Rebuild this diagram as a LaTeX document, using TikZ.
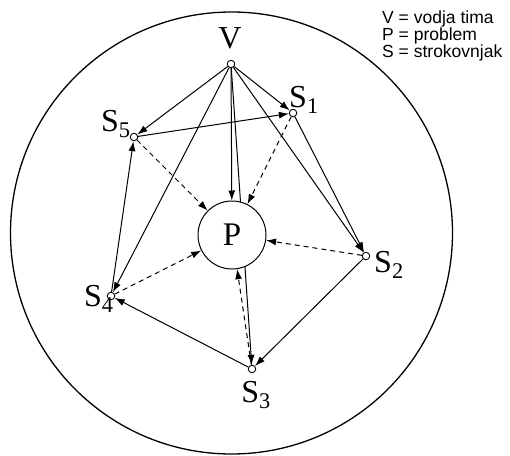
\documentclass[tikz,border=0pt]{standalone}
\usepackage{fontspec}
\setmainfont{Liberation Serif}
\newfontfamily\keyfont{Liberation Sans}
\usetikzlibrary{arrows.meta,positioning,backgrounds}

\begin{document}
\begin{tikzpicture}[
    x=1pt, y=-1pt,
    >={Latex[length=10pt,width=7pt]},
    member/.style={circle, draw, fill=white, minimum size=7.5pt, inner sep=0pt, line width=0.9pt},
    lbl/.style={inner sep=0pt, font=\fontsize{32}{32}\selectfont},
    link/.style={->, line width=1pt},
    hint/.style={->, line width=1pt, dash pattern=on 5pt off 4pt}
]
\useasboundingbox (0,0) rectangle (510,455);

% team boundary
\node[circle, draw, line width=1.3pt, minimum size=442pt, inner sep=0pt] (team) at (231.5,233) {};

% problem and members
\node[circle, draw, fill=white, line width=1pt, minimum size=68pt, inner sep=0pt,
      font=\fontsize{33}{33}\selectfont] (P) at (232,235) {P};
\node[member] (V)  at (231,64) {};
\node[member] (S1) at (293,113) {};
\node[member] (S2) at (366,256) {};
\node[member] (S3) at (252,369) {};
\node[member] (S4) at (111,296) {};
\node[member] (S5) at (134,137) {};

% labels
\node[lbl, anchor=base] (lV) at (230,48) {V};
\node[lbl, anchor=base west] (l1) at (289,107) {S\textsubscript{1}};
\node[lbl, anchor=base west] (l2) at (374,272) {S\textsubscript{2}};
\node[lbl, anchor=north] (l3) at (256,381) {S\textsubscript{3}};
\node[lbl, anchor=base west] (l4) at (84,306) {S\textsubscript{4}};
\node[lbl, anchor=base west] (l5) at (101,131) {S\textsubscript{5}};

\node[anchor=north west, align=left, inner sep=0pt,
      font=\keyfont\fontsize{17.5}{17}\selectfont] (key) at (382,11)
      {V = vodja tima\\P = problem\\S = strokovnjak};

\begin{scope}[on background layer]
% leader to members
\draw[link] (V) -- (S5);
\draw[link] (V) -- (S1);
\draw[link] (V) -- (P);
\draw[link] (V) -- (S3);
\draw[link] (V) -- (S4);
\draw[link] (V) -- (S2);
% members among themselves
\draw[link] (S1) -- (S2);
\draw[link] (S5) -- (S1);
\draw[link] (S4) -- (S5);
\draw[link] (S3) -- (S4);
\draw[link] (S2) -- (S3);
% members to problem
\draw[hint] (S1) -- (P);
\draw[hint] (S2) -- (P);
\draw[hint] (S3) -- (P);
\draw[hint] (S4) -- (P);
\draw[hint] (S5) -- (P);
\end{scope}
\end{tikzpicture}
\end{document}
